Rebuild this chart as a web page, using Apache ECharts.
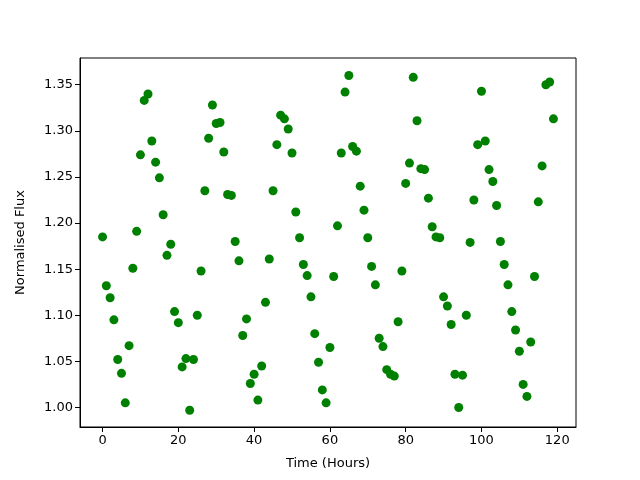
<!DOCTYPE html>
<html>
<head>
<meta charset="utf-8">
<script src="https://cdn.jsdelivr.net/npm/echarts@6/dist/echarts.min.js"></script>
<style>
  html, body { margin: 0; padding: 0; background: #fff; }
</style>
</head>
<body>
<div id="main" style="width: 640px;height:480px;"></div>
<script>
// hourly flux readings, hours 0..119
var hours = [];
for (var h = 0; h < 120; h++) hours.push(h);

var flux = [
  1.185, 1.132, 1.119, 1.095, 1.052, 1.037, 1.005, 1.067, 1.151, 1.191,
  1.274, 1.333, 1.340, 1.289, 1.266, 1.249, 1.209, 1.165, 1.177, 1.104,
  1.092, 1.044, 1.053, 0.997, 1.052, 1.100, 1.148, 1.235, 1.292, 1.328,
  1.308, 1.309, 1.277, 1.231, 1.230, 1.180, 1.159, 1.078, 1.096, 1.026,
  1.036, 1.008, 1.045, 1.114, 1.161, 1.235, 1.285, 1.317, 1.313, 1.302,
  1.276, 1.212, 1.184, 1.155, 1.143, 1.120, 1.080, 1.049, 1.019, 1.005,
  1.065, 1.142, 1.197, 1.276, 1.342, 1.360, 1.283, 1.278, 1.240, 1.214,
  1.184, 1.153, 1.133, 1.075, 1.066, 1.041, 1.036, 1.034, 1.093, 1.148,
  1.243, 1.265, 1.358, 1.311, 1.259, 1.258, 1.227, 1.196, 1.185, 1.184,
  1.120, 1.110, 1.090, 1.036, 1.000, 1.035, 1.100, 1.179, 1.225, 1.285,
  1.343, 1.289, 1.258, 1.245, 1.219, 1.180, 1.155, 1.133, 1.104, 1.084,
  1.061, 1.025, 1.012, 1.071, 1.142, 1.223, 1.262, 1.350, 1.353, 1.313
];

var xTicks = [0, 20, 40, 60, 80, 100, 120];
var yTicks = [1.00, 1.05, 1.10, 1.15, 1.20, 1.25, 1.30, 1.35];

var points = hours.map(function (h, i) { return [h, flux[i]]; });

var myChart = echarts.init(document.getElementById('main'));
var font = 'DejaVu Sans';
var option = {
  animation: false,
  grid: {
    left: 80, right: 64, top: 58, bottom: 53,
    show: true, borderColor: '#000', borderWidth: 1
  },
  xAxis: {
    type: 'value',
    min: -5.95, max: 124.95,
    name: 'Time (Hours)',
    nameLocation: 'middle',
    nameGap: 30,
    nameTextStyle: { color: '#000', fontSize: 13, fontFamily: font },
    axisLine: { show: true, onZero: false, lineStyle: { color: '#000' } },
    axisTick: { show: true, length: 5, lineStyle: { color: '#000' }, customValues: xTicks },
    axisLabel: { color: '#000', fontSize: 13, fontFamily: font, margin: 7, customValues: xTicks },
    splitLine: { show: false }
  },
  yAxis: {
    type: 'value',
    min: 0.9788, max: 1.379,
    name: 'Normalised Flux',
    nameLocation: 'middle',
    nameGap: 53,
    nameTextStyle: { color: '#000', fontSize: 13, fontFamily: font },
    axisLine: { show: true, onZero: false, lineStyle: { color: '#000' } },
    axisTick: { show: true, length: 5, lineStyle: { color: '#000' }, customValues: yTicks },
    axisLabel: {
      color: '#000', fontSize: 13, fontFamily: font, margin: 7, customValues: yTicks,
      formatter: function (v) { return v.toFixed(2); }
    },
    splitLine: { show: false }
  },
  series: [{
    type: 'scatter',
    data: points,
    symbolSize: 9,
    itemStyle: { color: '#008000', opacity: 1 }
  }]
};
option && myChart.setOption(option);
</script>
</body>
</html>
